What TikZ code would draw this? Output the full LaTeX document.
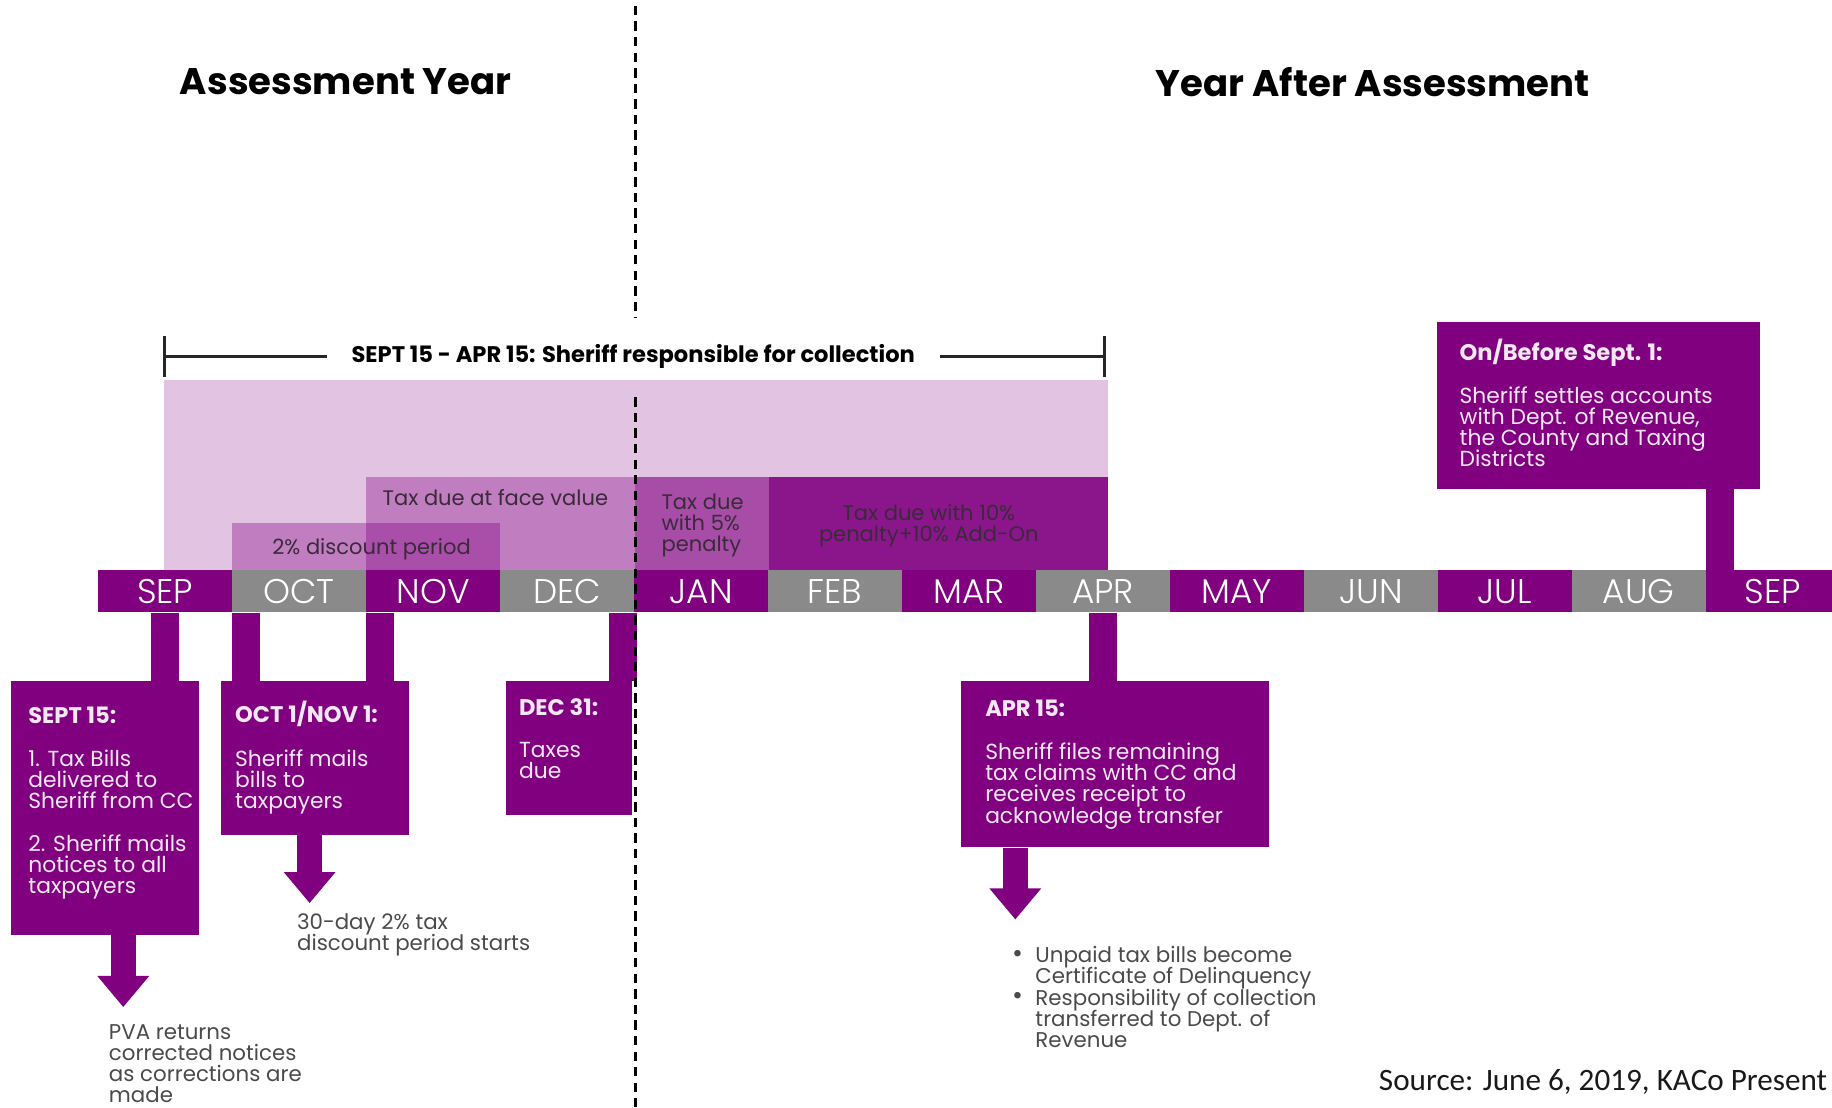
\documentclass[tikz,border=0pt]{standalone}
\usepackage{fontspec}
\setmainfont{Poppins}
\newfontfamily\srcfont{Carlito}
\newfontfamily\lightfont{Poppins Light}
\usetikzlibrary{arrows.meta}
\definecolor{purp}{HTML}{800080}
\definecolor{gry}{HTML}{8A8A8A}
\definecolor{pinkbg}{HTML}{E2C4E2}
\definecolor{midp}{HTML}{C07DC0}
\definecolor{ovlp}{HTML}{A94FA9}
\definecolor{pfive}{HTML}{A74DA7}
\definecolor{pten}{HTML}{8B168B}
\definecolor{rtext}{HTML}{3A2A3A}
\definecolor{gtext}{HTML}{4A4A4A}
\definecolor{wtext}{HTML}{F4E8F4}
\newcommand{\tightlines}{\lineskiplimit=-30pt\lineskip=0pt\relax}
\newcommand{\ttl}[1]{{\fontsize{14.5}{13.5}\selectfont\bfseries #1}}
\newcommand{\bul}{\makebox[15pt][l]{\raisebox{0.3pt}{\fontsize{17}{13.5}\selectfont •}}}
\begin{document}
\begin{tikzpicture}[x=0.75pt,y=-0.75pt,
  month/.style={minimum width=86pt, minimum height=27pt, inner sep=0pt, text=white,
    font=\lightfont\fontsize{22}{22}\selectfont},
  region/.style={anchor=north west, inner sep=0pt, draw=none},
  rlabel/.style={inner sep=0pt, text=rtext, font=\fontsize{13.5}{13.5}\selectfont\tightlines},
  stem/.style={draw=purp, line width=18pt},
  ebox/.style={anchor=north west, fill=purp, inner sep=0pt},
  etext/.style={anchor=north west, inner sep=0pt, align=left, text=wtext,
    font=\fontsize{14}{13.5}\selectfont\tightlines},
  note/.style={anchor=north west, inner sep=0pt, align=left, text=gtext,
    font=\fontsize{13.7}{13.5}\selectfont\tightlines},
  blockarrow/.style={draw=purp, line width=16pt, -{Triangle[width=32pt,length=20pt]}},
  heading/.style={inner sep=0pt, font=\fontsize{23.8}{24}\selectfont\bfseries, text=black},
  bracket/.style={draw=black!85, line width=1.9pt},
  divider/.style={draw=black, line width=2pt, dash pattern=on 6pt off 4pt}
]
\useasboundingbox (0,0) rectangle (1568,947.5);

% headings
\node[heading] (h1) at (296,70) {Assessment Year};
\node[heading] (h2) at (1175,70) {Year After Assessment};

% bracket
\coordinate (brl) at (141,305);
\coordinate (brr) at (945,305);
\node[inner xsep=15.75pt, inner ysep=0pt, font=\fontsize{14.5}{14}\selectfont\bfseries] (br) at (542,305)
  {SEPT 15 - APR 15: Sheriff responsible for collection};
\draw[bracket] (brl) -- (br.west);
\draw[bracket] (br.east) -- (brr);
\draw[bracket] ([yshift=13pt]brl) -- ([yshift=-13pt]brl);
\draw[bracket] ([yshift=13pt]brr) -- ([yshift=-13pt]brr);

% shaded regions
\node[region, fill=pinkbg, minimum width=606pt, minimum height=122.25pt] (pk) at (140,325) {};
\node[region, fill=midp, minimum width=172.5pt, minimum height=60pt] (fv) at (313,408) {};
\node[region, fill=midp, minimum width=172.5pt, minimum height=30.75pt] (dc) at (198,447) {};
\node[region, fill=ovlp, minimum width=86.25pt, minimum height=30.75pt] (ov) at (313,447) {};
\node[region, fill=pfive, minimum width=86.25pt, minimum height=60pt] (p5) at (543,408) {};
\node[region, fill=pten, minimum width=217.5pt, minimum height=60pt] (p10) at (658,408) {};

\node[rlabel] (dcl) at (318,470) {2\% discount period};
\node[rlabel] (fvl) at (424,426) {Tax due at face value};
\node[rlabel, anchor=west, align=left] (p5l) at (566,450) {Tax due\\with 5\%\\penalty};
\node[rlabel, align=center] (p10l) at (795,450) {Tax due with 10\%\\penalty+10\% Add-On};

% months
\foreach \lab/\col [count=\i] in {SEP/purp,OCT/gry,NOV/purp,DEC/gry,JAN/purp,FEB/gry,MAR/purp,APR/gry,MAY/purp,JUN/gry,JUL/purp,AUG/gry,SEP/purp}{
  \pgfmathsetmacro\xc{84+114.67*(\i-1)+57.33}
  \node[month, fill=\col] (m\i) at (\xc,506) {\lab};
}

% event boxes
\node[ebox, minimum width=120.75pt, minimum height=162.75pt] (b1) at (9,583) {};
\node[ebox, minimum width=120.75pt, minimum height=98.25pt] (b2) at (189,583) {};
\node[ebox, minimum width=81pt, minimum height=85.5pt] (b3) at (433,583) {};
\node[ebox, minimum width=198pt, minimum height=106.5pt] (b4) at (822,583) {};
\node[ebox, minimum width=207pt, minimum height=107.25pt] (b5) at (1230,275) {};

% stems
\draw[stem] (m1.south) -- (m1.south |- b1.north);
\draw[stem] ([xshift=9pt]m2.south west) -- ([xshift=9pt]m2.south west |- b2.north);
\draw[stem] ([xshift=9pt]m3.south west) -- ([xshift=9pt]m3.south west |- b2.north);
\draw[stem] ([xshift=-7pt]m4.south east) -- ([xshift=-7pt]m4.south east |- b3.north);
\draw[stem] (m8.south) -- (m8.south |- b4.north);
\draw[stem] ([xshift=9pt]m13.north west) -- ([xshift=9pt]m13.north west |- b5.south);

% box texts
\node[etext] (t1) at (24,605) {\ttl{SEPT 15:}\\[14.25pt]1. Tax Bills\\delivered to\\Sheriff from CC\\[13.5pt]2. Sheriff mails\\notices to all\\taxpayers};
\node[etext] (t2) at (201,600) {\ttl{OCT 1/NOV 1:}\\[14.25pt]Sheriff mails\\bills to\\taxpayers};
\node[etext] (t3) at (444,598) {\ttl{DEC 31:}\\[13.5pt]Taxes\\due};
\node[etext] (t4) at (843,599) {\ttl{APR 15:}\\[14.25pt]Sheriff files remaining\\tax claims with CC and\\receives receipt to\\acknowledge transfer};
\node[etext] (t5) at (1249,290) {\ttl{On/Before Sept. 1:}\\[14.25pt]Sheriff settles accounts\\with Dept. of Revenue,\\the County and Taxing\\Districts};

% block arrows
\coordinate (a1) at (105.5,862);
\coordinate (a2) at (265,773);
\coordinate (a3) at (869,787);
\draw[blockarrow] (b1.south -| a1) -- (a1);
\draw[blockarrow] (b2.south -| a2) -- (a2);
\draw[blockarrow] (b4.south -| a3) -- (a3);

% notes
\node[note] (n1) at (93,877) {PVA returns\\corrected notices\\as corrections are\\made};
\node[note] (n2) at (254,782) {30-day 2\% tax\\discount period starts};
\node[note] (n3) at (866,810) {\bul Unpaid tax bills become\\\hspace*{15pt}Certificate of Delinquency\\\bul Responsibility of collection\\\hspace*{15pt}transferred to Dept. of\\\hspace*{15pt}Revenue};

% divider
\coordinate (d0) at (544,5);
\coordinate (d1) at (544,272);
\coordinate (d2) at (544,340);
\coordinate (d3) at (544,947.5);
\draw[divider] (d0) -- (d1);
\draw[divider] (d2) -- (d3);

% source
\node[anchor=base west, inner sep=0pt, font=\srcfont\fontsize{20}{20}\selectfont, text=black!90] (src) at (1180,933) {Source: June 6, 2019, KACo Present};
\end{tikzpicture}
\end{document}
